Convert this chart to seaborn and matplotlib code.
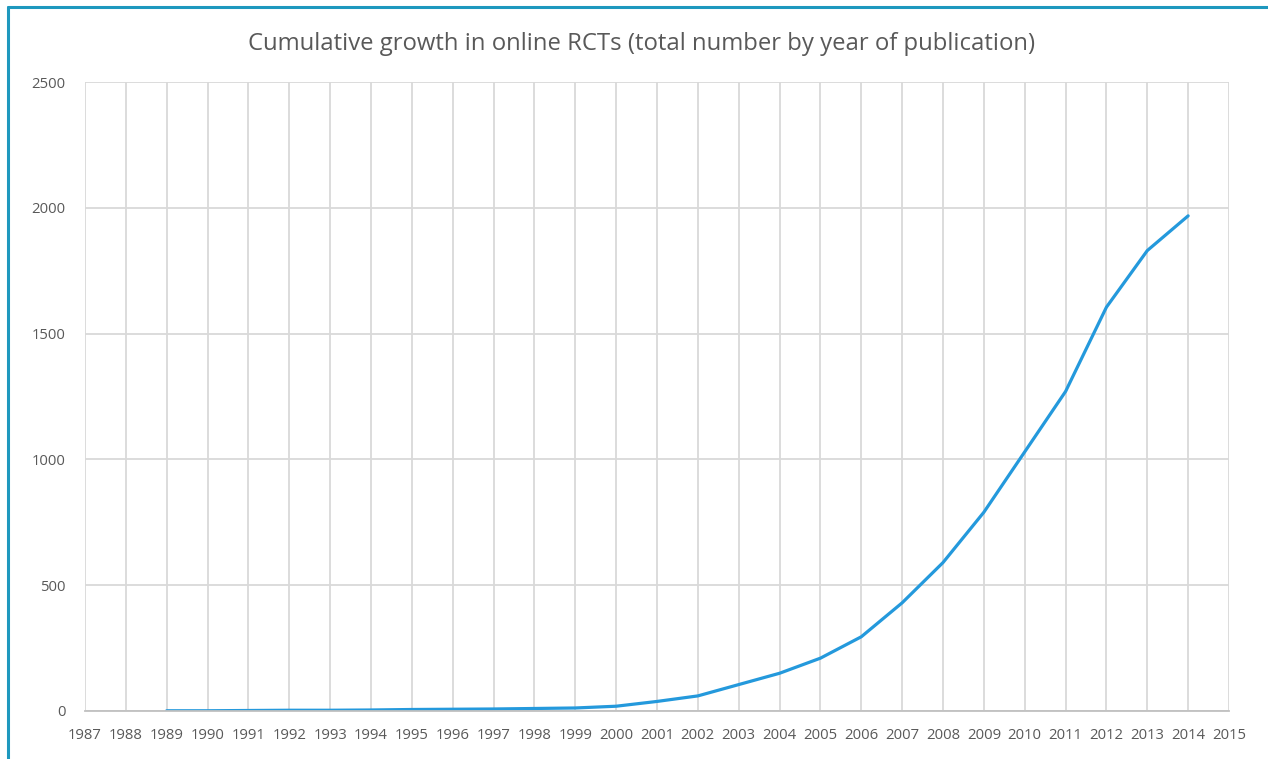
import matplotlib
matplotlib.use("Agg")
import matplotlib.pyplot as plt
from matplotlib.lines import Line2D
import seaborn as sns
import pandas as pd

years = list(range(1989, 2015))
totals = [1, 1, 2, 3, 3, 4, 6, 7, 8, 10, 12, 19, 38, 60, 105, 150, 210, 295,
          430, 590, 790, 1030, 1270, 1605, 1830, 1968]
tick_years = list(range(1987, 2016))
y_ticks = [0, 500, 1000, 1500, 2000, 2500]
title = "Cumulative growth in online RCTs (total number by year of publication)"

df = pd.DataFrame({"year": years, "total": totals})

sns.set_theme(style="whitegrid")
plt.rcParams['font.family'] = ['Open Sans', 'DejaVu Sans']

fig = plt.figure(figsize=(12.68, 7.59), dpi=100)
ax = fig.add_axes([85/1268, 1 - 711/759, 1144/1268, (711 - 82)/759])

sns.lineplot(data=df, x="year", y="total", ax=ax, color="#2499DC", linewidth=2.3)

ax.set_xlim(1987, 2015)
ax.set_ylim(0, 2500)
ax.set_xticks(tick_years)
ax.set_xticklabels([str(y) for y in tick_years])
ax.set_yticks(y_ticks)
ax.set_xlabel("")
ax.set_ylabel("")
ax.grid(True, color="#d9d9d9", linewidth=1.3)
for side in ["top", "left", "right"]:
    ax.spines[side].set_visible(False)
ax.spines["bottom"].set_color("#c0c0c0")
ax.spines["bottom"].set_linewidth(1.3)
ax.tick_params(axis="both", length=0, labelsize=10.7, colors="#595959")
ax.tick_params(axis="y", pad=14)
ax.tick_params(axis="x", pad=12)
ax.set_facecolor("white")

fig.text(642/1268, 1 - 44/759, title, ha="center", va="center",
         fontsize=17.2, color="#595959")

# teal frame (top and left visible)
fig.add_artist(Line2D([8/1268, 1.0], [1 - 7/759, 1 - 7/759], color="#1E98BE",
                      linewidth=2.2, transform=fig.transFigure))
fig.add_artist(Line2D([8/1268, 8/1268], [0, 1 - 7/759], color="#1E98BE",
                      linewidth=2.2, transform=fig.transFigure))

fig.savefig("out.png", dpi=100, facecolor="white")
